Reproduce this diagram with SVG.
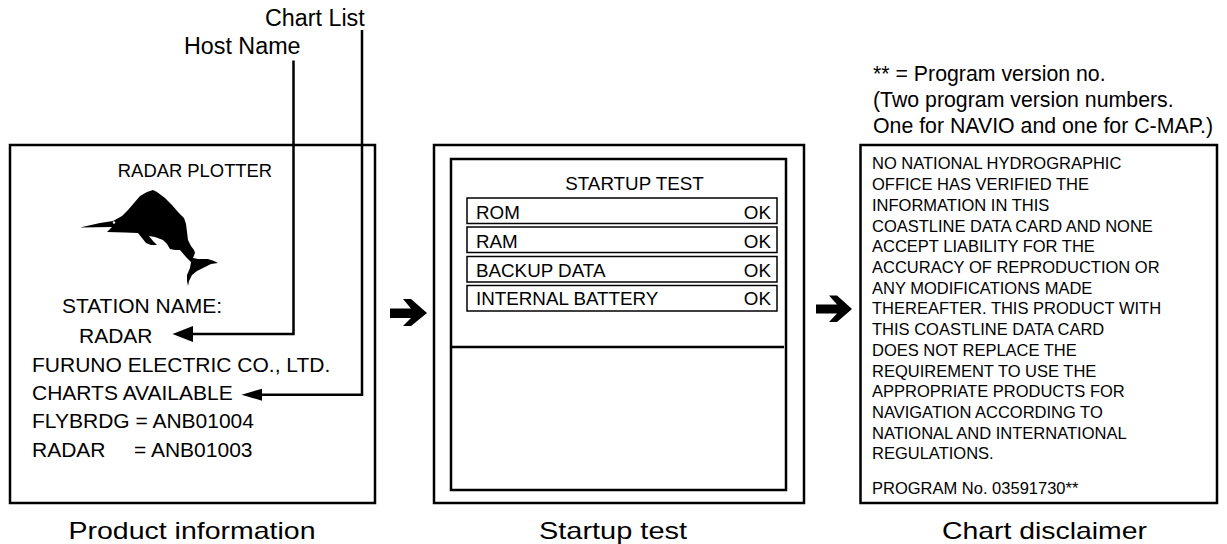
<svg xmlns="http://www.w3.org/2000/svg" width="1227" height="544" viewBox="0 0 1227 544">
<style>
text{font-family:"Liberation Sans",Arial,sans-serif;fill:#000}
.p{font-size:21px}
.s{font-size:18.800px}
.d{font-size:16.500px}
.n{font-size:21.300px}
.h{font-size:23.300px}
.c{font-size:24px;text-anchor:middle}
.e{text-anchor:end}
.m{text-anchor:middle}
.b{fill:none;stroke:#000;stroke-width:2.500}
.r{fill:none;stroke:#000;stroke-width:1.500}
.l{fill:none;stroke:#000;stroke-width:2.500}
</style>
<rect width="1227" height="544" fill="#fff"/>
<g id="product-info">
<rect class="b" x="10" y="145" width="365" height="358"/>
<text class="p m" x="195" y="177" style="font-size:18.400px">RADAR PLOTTER</text>
<path d="M80 227.500L100 223L113 221L122 216L128 210L134 203L140 196L147 192L153 190L157 192L165 198L172 205L178 212L184 218L186 224L187 232L188 240L191 246L194 250L195 253L193 258L198 259L208 259L214 261L218 263L211 264L203 268L197 271L192 275L189 281L188 286L187 281L187 275L190 268L191 262L186 257L180 250L175 250L170 249L167 244L163 240L155 237L149 236L153 241L157 245L151 245L146 243L142 238L138 233L125 232.500L107 232L110 229L112 227Z" fill="#000"/>
<circle cx="114" cy="222.500" r="1.200" fill="#fff"/>
<text class="p m" x="142" y="313">STATION NAME:</text>
<text class="p" x="79" y="343">RADAR</text>
<text class="p" x="32" y="371.500">FURUNO ELECTRIC CO., LTD.</text>
<text class="p" x="32" y="400">CHARTS AVAILABLE</text>
<text class="p" x="32" y="428">FLYBRDG = ANB01004</text>
<text class="p" x="32" y="457">RADAR</text>
<text class="p" x="134" y="457">= ANB01003</text>
</g>
<g id="startup-test">
<rect class="b" x="434" y="145" width="370" height="358"/>
<rect class="b" x="451" y="159" width="335" height="331"/>
<line class="b" x1="451" y1="347" x2="784" y2="347"/>
<text class="s m" x="634.500" y="190">STARTUP TEST</text>
<rect class="r" x="467" y="198" width="310" height="25.500"/>
<rect class="r" x="467" y="227" width="310" height="25.500"/>
<rect class="r" x="467" y="256.500" width="310" height="25.500"/>
<rect class="r" x="467" y="285.500" width="310" height="25.500"/>
<text class="s" x="476" y="219">ROM</text><text class="s e" x="771" y="219">OK</text>
<text class="s" x="476" y="248">RAM</text><text class="s e" x="771" y="248">OK</text>
<text class="s" x="476" y="277">BACKUP DATA</text><text class="s e" x="771" y="277">OK</text>
<text class="s" x="476" y="305">INTERNAL BATTERY</text><text class="s e" x="771" y="305">OK</text>
</g>
<g id="chart-disclaimer">
<rect class="b" x="860.500" y="145" width="356.500" height="358"/>
<g class="d">
<text x="872" y="169">NO NATIONAL HYDROGRAPHIC</text>
<text x="872" y="190">OFFICE HAS VERIFIED THE</text>
<text x="872" y="210.500">INFORMATION IN THIS</text>
<text x="872" y="231.500">COASTLINE DATA CARD AND NONE</text>
<text x="872" y="252">ACCEPT LIABILITY FOR THE</text>
<text x="872" y="272.500">ACCURACY OF REPRODUCTION OR</text>
<text x="872" y="294">ANY MODIFICATIONS MADE</text>
<text x="872" y="314">THEREAFTER. THIS PRODUCT WITH</text>
<text x="872" y="335">THIS COASTLINE DATA CARD</text>
<text x="872" y="356">DOES NOT REPLACE THE</text>
<text x="872" y="376.500">REQUIREMENT TO USE THE</text>
<text x="872" y="397">APPROPRIATE PRODUCTS FOR</text>
<text x="872" y="418">NAVIGATION ACCORDING TO</text>
<text x="872" y="439">NATIONAL AND INTERNATIONAL</text>
<text x="872" y="459">REGULATIONS.</text>
<text x="872" y="494">PROGRAM No. 03591730**</text>
</g>
</g>
<g id="notes">
<text class="n" x="873" y="80.500">** = Program version no.</text>
<text class="n" x="873" y="107">(Two program version numbers.</text>
<text class="n" x="873" y="132.500">One for NAVIO and one for C-MAP.)</text>
</g>
<g id="connectors">
<path class="l" d="M293.500 60.500V334H190"/>
<path class="l" d="M362 30V394.700H260"/>
<path d="M172.500 334L193 326V342Z"/>
<path d="M241.500 394.700L262 388.700V400.700Z"/>
<path d="M390 308.500H411L403 299H411L427 313L411 326H403L411 318H390Z"/>
<path d="M816 304.500H837L829 295.500H837L852 309L837 322H829L837 313.500H816Z"/>
</g>
<g id="labels">
<text class="h" x="265" y="26">Chart List</text>
<text class="h" x="184" y="54">Host Name</text>
<text class="c" x="192" y="538.500" textLength="247" lengthAdjust="spacingAndGlyphs">Product information</text>
<text class="c" x="613" y="538.500" textLength="148" lengthAdjust="spacingAndGlyphs">Startup test</text>
<text class="c" x="1044.500" y="538.500" textLength="205" lengthAdjust="spacingAndGlyphs">Chart disclaimer</text>
</g>
</svg>
